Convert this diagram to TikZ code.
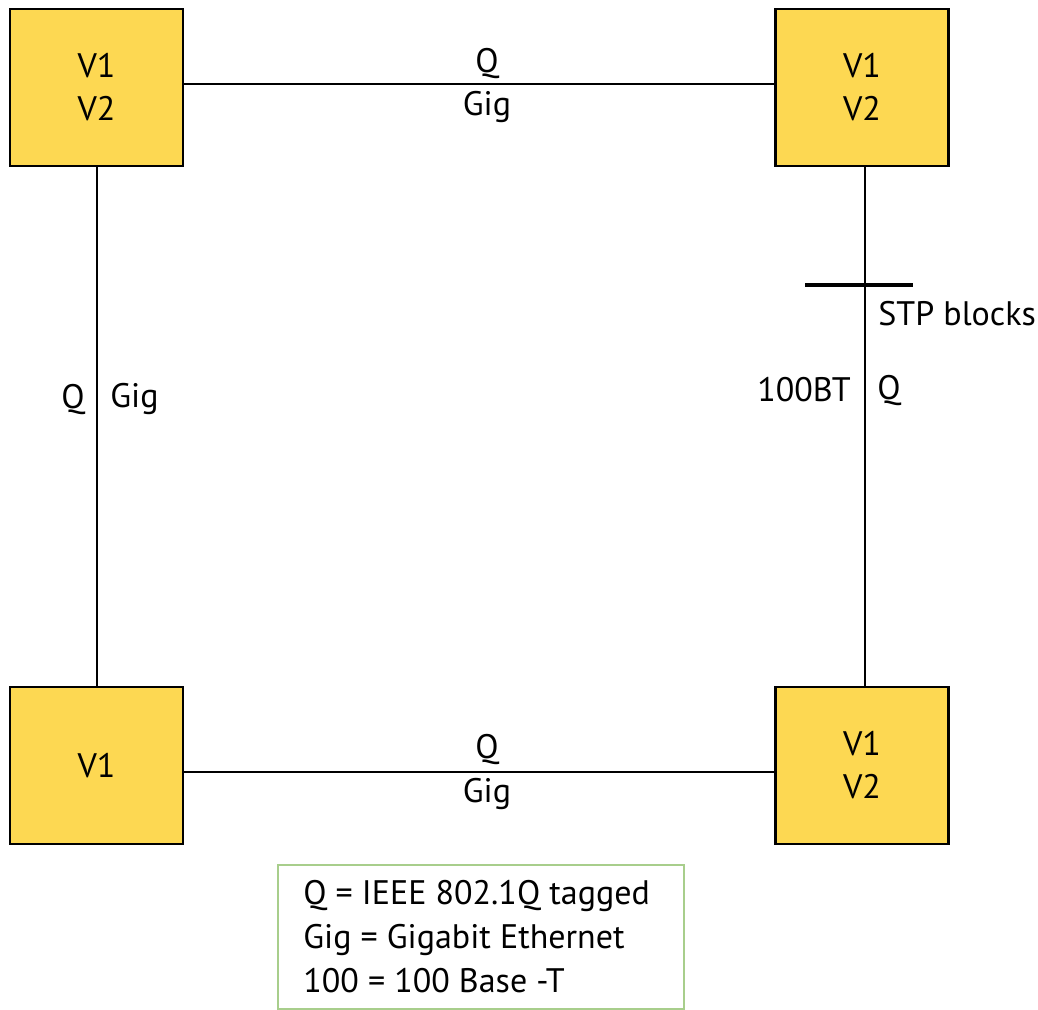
\documentclass[tikz,border=0pt]{standalone}
\usepackage{fontspec}
\setmainfont{PT Sans}
\definecolor{boxfill}{RGB}{253,216,82}
\definecolor{legendgreen}{RGB}{168,206,140}
\begin{document}
\begin{tikzpicture}[x=0.5pt,y=-0.5pt,
  every node/.style={font=\fontsize{17}{21.5}\selectfont, inner sep=0pt},
  switchbox/.style={draw=black, line width=1.25pt, fill=boxfill, minimum width=86.5pt, minimum height=78.5pt, align=center},
  link/.style={draw=black, line width=1pt},
  lbl/.style={text=black}]
\useasboundingbox (0,0) rectangle (1038,1009);
% switches
\node[switchbox] (tl) at (96.5,87.5) {V1\\V2};
\node[switchbox] (tr) at (862,87.5) {V1\\V2};
\node[switchbox] (bl) at (96.5,765.5) {V1};
\node[switchbox] (br) at (862,765.5) {V1\\V2};
% links
\draw[link] ([yshift=1.75pt]tl.east) -- ([yshift=1.75pt]tr.west);
\draw[link] ([yshift=-3.25pt]bl.east) -- ([yshift=-3.25pt]br.west);
\draw[link] (tl.south) -- (bl.north);
\draw[link] ([xshift=1.5pt]tr.south) -- ([xshift=1.5pt]br.north);
% STP block marker
\coordinate (stpL) at (805,285);
\coordinate (stpR) at (913,285);
\draw[line width=2pt] (stpL) -- (stpR);
% labels
\node[lbl] (tq) at (487,63) {Q};
\node[lbl] (tg) at (487,107) {Gig};
\node[lbl] (bq) at (487,749) {Q};
\node[lbl] (bg) at (487,794) {Gig};
\node[lbl] (lq) at (73,399) {Q};
\node[lbl,anchor=west] (lg) at (110,399) {Gig};
\node[lbl,anchor=east] (r100) at (851,390) {100BT};
\node[lbl,anchor=west] (rq) at (877,390) {Q};
\node[lbl,anchor=west] (stp) at (878,314) {STP blocks};
% legend
\node[draw=legendgreen, line width=1pt, minimum width=203pt, minimum height=72pt, anchor=north west] (legend) at (277,864) {};
\node[lbl,anchor=west, align=left, font=\fontsize{17}{22}\selectfont] (legtext) at (303,937) {Q = IEEE 802.1Q tagged\\Gig = Gigabit Ethernet\\100 = 100 Base -T};
\end{tikzpicture}
\end{document}
